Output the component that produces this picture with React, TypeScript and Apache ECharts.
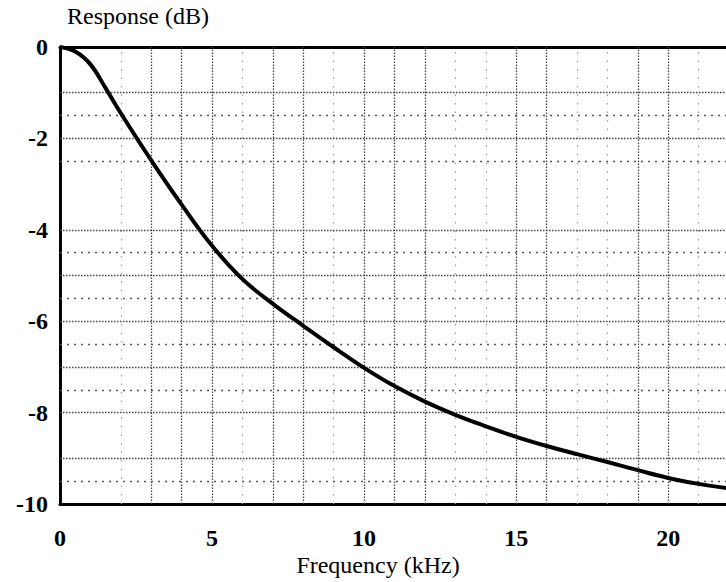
import React, { useEffect, useRef } from "react";
import * as echarts from "echarts";

// Frequency (kHz) and response (dB)
const freqKHz = [0, 0.5, 1, 1.5, 2, 3, 4, 5, 6, 7, 8, 9, 10, 11, 12, 13, 14, 15, 16, 17, 18, 19, 20, 21, 22];
const responseDb = [0, -0.1, -0.38, -0.9, -1.45, -2.48, -3.45, -4.35, -5.08, -5.62, -6.1, -6.57, -7.02, -7.42, -7.76, -8.05, -8.3, -8.53, -8.73, -8.91, -9.08, -9.26, -9.43, -9.56, -9.66];

// Grid lines (as on the scanned graph paper)
const vGridDense = [3, 4, 5, 7, 8, 10, 11, 12, 15, 16, 19, 20];
const vGridFaint = [2, 6, 9, 13, 14, 17, 18, 21];
const hGridDense = [-1, -2, -4, -5, -6, -7, -8, -9];
const hGridSparse = [-1.5, -2.5, -4.5, -5.5, -6.5, -7.5, -9.5];

const xTickInterval = 5;
const yTickInterval = 2;

const FONT = "'Liberation Serif', 'Times New Roman', serif";

export default function App() {
  const ref = useRef<HTMLDivElement>(null);

  useEffect(() => {
    if (!ref.current) return;
    const chart = echarts.init(ref.current, undefined, { renderer: "svg" });

    const dense = { color: "#444", width: 1.3, type: [1.5, 1.5] };
    const sparse = { color: "#555", width: 1.3, type: [2, 5] };
    const faint = { color: "#999", width: 1.2, type: [1.5, 7] };

    const markData: any[] = [
      ...vGridDense.map((v) => ({ xAxis: v, lineStyle: dense })),
      ...vGridFaint.map((v) => ({ xAxis: v, lineStyle: faint })),
      ...hGridDense.map((v) => ({ yAxis: v, lineStyle: dense })),
      ...hGridSparse.map((v) => ({ yAxis: v, lineStyle: sparse })),
    ];

    const data = freqKHz.map((f, i) => [f, responseDb[i]]);

    chart.setOption({
      animation: false,
      backgroundColor: "#fff",
      grid: { left: 60, top: 47, right: 0, bottom: 78 },
      xAxis: [
        {
          type: "value",
          min: 0,
          max: 21.9,
          interval: xTickInterval,
          position: "bottom",
          axisLine: { show: true, onZero: false, lineStyle: { color: "#000", width: 3 } },
          axisTick: { show: false },
          splitLine: { show: false },
          axisLabel: {
            showMaxLabel: false,
            color: "#000",
            fontFamily: FONT,
            fontWeight: "bold",
            fontSize: 24,
            margin: 22,
          },
        },
        {
          type: "value",
          min: 0,
          max: 21.9,
          position: "top",
          axisLine: { show: true, onZero: false, lineStyle: { color: "#000", width: 3 } },
          axisTick: { show: false },
          axisLabel: { show: false },
          splitLine: { show: false },
        },
      ],
      yAxis: {
        type: "value",
        min: -10,
        max: 0,
        interval: yTickInterval,
        axisLine: { show: true, onZero: false, lineStyle: { color: "#000", width: 3 } },
        axisTick: { show: false },
        splitLine: { show: false },
        axisLabel: {
          color: "#000",
          fontFamily: FONT,
          fontWeight: "bold",
          fontSize: 24,
          margin: 12,
        },
      },
      graphic: [
        {
          type: "text",
          left: 67,
          top: 4,
          style: { text: "Response (dB)", font: `24px ${FONT}`, fill: "#000" },
        },
        {
          type: "text",
          x: 378,
          y: 553,
          style: {
            text: "Frequency (kHz)",
            font: `24px ${FONT}`,
            fill: "#000",
            textAlign: "center",
            textVerticalAlign: "top",
          },
        },
      ],
      series: [
        {
          type: "line",
          data,
          showSymbol: false,
          silent: true,
          lineStyle: { opacity: 0 },
          z: 1,
          markLine: {
            silent: true,
            symbol: ["none", "none"],
            label: { show: false },
            emphasis: { disabled: true },
            data: markData,
          },
        },
        {
          type: "line",
          data,
          smooth: 0.4,
          showSymbol: false,
          silent: true,
          lineStyle: { color: "#000", width: 4 },
          z: 5,
        },
      ],
    });

    return () => chart.dispose();
  }, []);

  return (
    <div
      ref={ref}
      style={{ position: "fixed", left: 0, top: 0, width: 726, height: 582, background: "#fff" }}
    />
  );
}
